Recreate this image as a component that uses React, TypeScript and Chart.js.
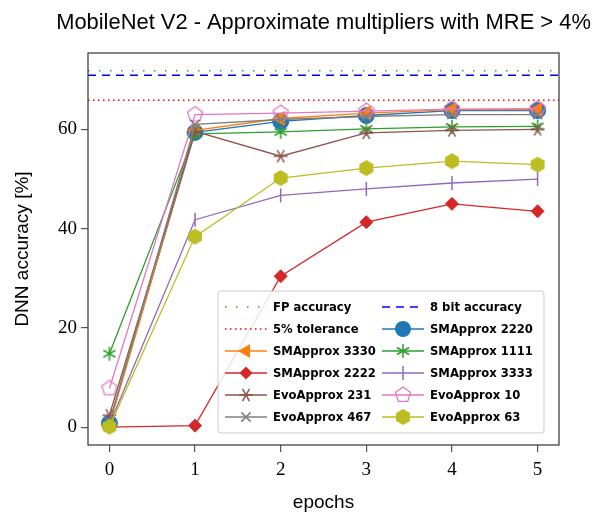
import React, { useEffect, useRef } from "react";
import { Chart, registerables } from "chart.js";

Chart.register(...registerables);

const epochs = [0, 1, 2, 3, 4, 5];
const xTicks = [0, 1, 2, 3, 4, 5];
const yTicks = [0, 20, 40, 60];

const fpAccuracy = 71.8;
const bit8Accuracy = 70.9;
const tolerance5 = 65.9;

const sm2220 = [0.8, 59.4, 61.6, 62.8, 63.8, 63.8];
const sm3330 = [0.4, 59.8, 62.2, 63.3, 64.0, 64.0];
const sm1111 = [14.8, 59.1, 59.5, 60.1, 60.5, 60.6];
const sm2222 = [0.0, 0.3, 30.4, 41.3, 45.0, 43.5];
const sm3333 = [0.5, 41.8, 46.7, 48.0, 49.2, 50.0];
const evo231 = [2.4, 59.6, 54.6, 59.3, 59.8, 60.0];
const evo10 = [7.8, 63.0, 63.3, 63.7, 64.1, 64.2];
const evo467 = [1.0, 61.0, 62.0, 62.6, 63.0, 63.0];
const evo63 = [0.1, 38.4, 50.2, 52.2, 53.6, 52.9];

const C = {
  blue: "#1f77b4",
  orange: "#ff7f0e",
  green: "#2ca02c",
  red: "#d62728",
  purple: "#9467bd",
  brown: "#8c564b",
  pink: "#e377c2",
  gray: "#7f7f7f",
  olive: "#bcbd22",
};

function makeMarker(size: number, draw: (ctx: CanvasRenderingContext2D, c: number) => void) {
  const cv = document.createElement("canvas");
  cv.width = size;
  cv.height = size;
  const ctx = cv.getContext("2d")!;
  draw(ctx, size / 2);
  return cv;
}

function polygon(ctx: CanvasRenderingContext2D, c: number, r: number, n: number, start: number) {
  ctx.beginPath();
  for (let i = 0; i < n; i++) {
    const a = start + (i * 2 * Math.PI) / n;
    const px = c + r * Math.cos(a);
    const py = c + r * Math.sin(a);
    if (i === 0) ctx.moveTo(px, py);
    else ctx.lineTo(px, py);
  }
  ctx.closePath();
}

function asterisk(color: string, angles: number[]) {
  return makeMarker(18, (ctx, c) => {
    ctx.strokeStyle = color;
    ctx.lineWidth = 1.5;
    const r = 7;
    ctx.beginPath();
    angles.forEach((deg) => {
      const a = (deg * Math.PI) / 180;
      ctx.moveTo(c - r * Math.cos(a), c - r * Math.sin(a));
      ctx.lineTo(c + r * Math.cos(a), c + r * Math.sin(a));
    });
    ctx.stroke();
  });
}

export default function App() {
  const ref = useRef<HTMLCanvasElement | null>(null);

  useEffect(() => {
    if (!ref.current) return;

    const pentagon = makeMarker(20, (ctx, c) => {
      polygon(ctx, c, 8, 5, -Math.PI / 2);
      ctx.strokeStyle = C.pink;
      ctx.lineWidth = 1.3;
      ctx.stroke();
    });
    const hexagon = makeMarker(20, (ctx, c) => {
      polygon(ctx, c, 8, 6, -Math.PI / 2);
      ctx.fillStyle = C.olive;
      ctx.fill();
    });
    const greenStar = asterisk(C.green, [90, 30, 150]);
    const brownStar = asterisk(C.brown, [0, 60, 120]);

    const line = (data: number[]) => epochs.map((e, i) => ({ x: e, y: data[i] }));
    const hline = (v: number) => [
      { x: -0.25, y: v },
      { x: 5.25, y: v },
    ];

    type Spec = {
      label: string;
      data: { x: number; y: number }[];
      color: string;
      style?: any;
      radius?: number;
      rotation?: number;
      dash?: number[];
      ref?: boolean;
      lw?: number;
    };

    const specs: Spec[] = [
      { label: "FP accuracy", data: hline(fpAccuracy), color: C.green, dash: [1.5, 9.5], ref: true, lw: 1.5 },
      { label: "8 bit accuracy", data: hline(bit8Accuracy), color: "#0000ff", dash: [8, 6], ref: true, lw: 1.5 },
      { label: "5% tolerance", data: hline(tolerance5), color: "#ff0000", dash: [1.5, 3.5], ref: true, lw: 1.5 },
      { label: "SMApprox 2220", data: line(sm2220), color: C.blue, style: "circle", radius: 8 },
      { label: "SMApprox 3330", data: line(sm3330), color: C.orange, style: "triangle", radius: 8, rotation: -90 },
      { label: "SMApprox 1111", data: line(sm1111), color: C.green, style: greenStar },
      { label: "SMApprox 2222", data: line(sm2222), color: C.red, style: "rectRot", radius: 6.5 },
      { label: "SMApprox 3333", data: line(sm3333), color: C.purple, style: "line", radius: 7, rotation: 90 },
      { label: "EvoApprox 231", data: line(evo231), color: C.brown, style: brownStar },
      { label: "EvoApprox 10", data: line(evo10), color: C.pink, style: pentagon },
      { label: "EvoApprox 467", data: line(evo467), color: C.gray, style: "crossRot", radius: 6.5 },
      { label: "EvoApprox 63", data: line(evo63), color: C.olive, style: hexagon },
    ];

    const datasets = specs.map((s, i) => ({
      label: s.label,
      data: s.data,
      borderColor: s.color,
      backgroundColor: s.color,
      borderWidth: s.lw ?? 1.3,
      borderDash: s.dash ?? [],
      pointRadius: s.ref ? 0 : s.radius ?? 8,
      pointHoverRadius: s.ref ? 0 : s.radius ?? 8,
      pointStyle: s.ref ? "circle" : s.style,
      pointRotation: s.rotation ?? 0,
      pointBorderColor: s.color,
      pointBackgroundColor: s.color,
      pointBorderWidth: s.style === "line" || s.style === "crossRot" ? 1.5 : 1,
      tension: 0,
      fill: false,
      order: 100 - i,
      clip: false as any,
    }));

    const legendCols = [
      ["FP accuracy", "5% tolerance", "SMApprox 3330", "SMApprox 2222", "EvoApprox 231", "EvoApprox 467"],
      ["8 bit accuracy", "SMApprox 2220", "SMApprox 1111", "SMApprox 3333", "EvoApprox 10", "EvoApprox 63"],
    ];

    function drawPoint(ctx: CanvasRenderingContext2D, style: any, r: number, rot: number, x: number, y: number) {
      if (style instanceof HTMLCanvasElement) {
        ctx.drawImage(style, x - style.width / 2, y - style.height / 2);
        return;
      }
      const rad = (rot * Math.PI) / 180;
      ctx.beginPath();
      if (style === "circle") {
        ctx.arc(x, y, r, 0, Math.PI * 2);
        ctx.fill();
      } else if (style === "triangle") {
        const pts = [0, 1, 2].map((k) => {
          const a = rad - Math.PI / 2 + (k * 2 * Math.PI) / 3;
          return [x + r * Math.cos(a), y + r * Math.sin(a)];
        });
        ctx.moveTo(pts[0][0], pts[0][1]);
        ctx.lineTo(pts[1][0], pts[1][1]);
        ctx.lineTo(pts[2][0], pts[2][1]);
        ctx.closePath();
        ctx.fill();
      } else if (style === "rectRot") {
        ctx.moveTo(x, y - r);
        ctx.lineTo(x + r, y);
        ctx.lineTo(x, y + r);
        ctx.lineTo(x - r, y);
        ctx.closePath();
        ctx.fill();
      } else if (style === "line") {
        ctx.moveTo(x, y - r);
        ctx.lineTo(x, y + r);
        ctx.stroke();
      } else if (style === "crossRot") {
        const d = r * Math.SQRT1_2;
        ctx.moveTo(x - d, y - d);
        ctx.lineTo(x + d, y + d);
        ctx.moveTo(x + d, y - d);
        ctx.lineTo(x - d, y + d);
        ctx.stroke();
      }
    }

    const decor = {
      id: "decor",
      afterDatasetsDraw(chart: any) {
        const ctx: CanvasRenderingContext2D = chart.ctx;
        const a = chart.chartArea;
        ctx.save();
        ctx.strokeStyle = "#333";
        ctx.lineWidth = 1.2;
        ctx.strokeRect(a.left, a.top, a.right - a.left, a.bottom - a.top);

        ctx.fillStyle = "#000";
        ctx.textAlign = "center";
        ctx.textBaseline = "alphabetic";
        const title = "MobileNet V2 - Approximate multipliers with MRE > 4%";
        ctx.font = '20px "Liberation Sans"';
        const w = ctx.measureText(title).width;
        const fs = (20 * 535) / w;
        ctx.font = `${fs.toFixed(2)}px "Liberation Sans"`;
        ctx.fillText(title, (a.left + a.right) / 2, 29);

        ctx.font = '19px "Liberation Sans"';
        ctx.textBaseline = "middle";
        ctx.fillText("epochs", (a.left + a.right) / 2, 503);
        ctx.save();
        ctx.translate(23, (a.top + a.bottom) / 2);
        ctx.rotate(-Math.PI / 2);
        ctx.fillText("DNN accuracy [%]", 0, 0);
        ctx.restore();

        const lx = 218, ly = 291, lw = 326, lh = 142;
        ctx.fillStyle = "rgba(255,255,255,0.85)";
        ctx.strokeStyle = "#cccccc";
        ctx.lineWidth = 1;
        ctx.beginPath();
        (ctx as any).roundRect ? (ctx as any).roundRect(lx, ly, lw, lh, 3) : ctx.rect(lx, ly, lw, lh);
        ctx.fill();
        ctx.stroke();

        const rowsY = [307, 329, 351, 373, 395, 417];
        const handleX = [
          [225, 267],
          [382, 424],
        ];
        const textX = [273, 430];
        ctx.font = 'bold 11.6px "DejaVu Sans"';
        ctx.textAlign = "left";
        ctx.textBaseline = "middle";
        legendCols.forEach((col, ci) => {
          col.forEach((label, ri) => {
            const idx = specs.findIndex((s) => s.label === label);
            const s = specs[idx];
            const ds = datasets[idx];
            const y = rowsY[ri];
            const [x0, x1] = handleX[ci];
            ctx.save();
            ctx.strokeStyle = s.color;
            ctx.lineWidth = ds.borderWidth;
            ctx.setLineDash(s.dash ?? []);
            ctx.beginPath();
            ctx.moveTo(x0, y);
            ctx.lineTo(x1, y);
            ctx.stroke();
            ctx.setLineDash([]);
            if (!s.ref) {
              ctx.fillStyle = s.color;
              ctx.strokeStyle = s.color;
              ctx.lineWidth = ds.pointBorderWidth;
              drawPoint(ctx, s.style, ds.pointRadius, s.rotation ?? 0, (x0 + x1) / 2, y);
            }
            ctx.restore();
            ctx.fillStyle = "#000";
            ctx.fillText(label, textX[ci], y + 1);
          });
        });
        ctx.restore();
      },
    };

    const tickFont = { family: '"Liberation Serif"', size: 19 };

    const chart = new Chart(ref.current, {
      type: "line",
      data: { datasets: datasets as any },
      plugins: [decor],
      options: {
        animation: false,
        responsive: false,
        maintainAspectRatio: false,
        events: [],
        layout: { padding: { top: 53, right: 36, left: 0, bottom: 0 } },
        plugins: {
          legend: { display: false },
          title: { display: false },
          tooltip: { enabled: false },
        },
        scales: {
          x: {
            type: "linear",
            min: -0.25,
            max: 5.25,
            afterBuildTicks: (axis: any) => {
              axis.ticks = xTicks.map((v) => ({ value: v }));
            },
            afterFit: (axis: any) => {
              axis.height = 69;
            },
            grid: {
              display: true,
              drawOnChartArea: false,
              drawTicks: true,
              tickLength: 7,
              tickColor: "#555",
              lineWidth: 1.2,
            },
            border: { display: false },
            ticks: {
              color: "#000",
              font: tickFont,
              padding: 7,
              maxRotation: 0,
              callback: (v: any) => String(v),
            },
          },
          y: {
            type: "linear",
            min: -3.6,
            max: 75.4,
            afterBuildTicks: (axis: any) => {
              axis.ticks = yTicks.map((v) => ({ value: v }));
            },
            afterFit: (axis: any) => {
              axis.width = 88;
            },
            grid: {
              display: true,
              drawOnChartArea: false,
              drawTicks: true,
              tickLength: 7,
              tickColor: "#555",
              lineWidth: 1.2,
            },
            border: { display: false },
            ticks: {
              color: "#000",
              font: tickFont,
              padding: 4,
              callback: (v: any) => String(v),
            },
          },
        },
      },
    });

    return () => chart.destroy();
  }, []);

  return (
    <div style={{ position: "absolute", left: 0, top: 0, width: 595, height: 514, background: "#fff" }}>
      <canvas ref={ref} width={595} height={514} style={{ width: 595, height: 514, display: "block" }} />
    </div>
  );
}
